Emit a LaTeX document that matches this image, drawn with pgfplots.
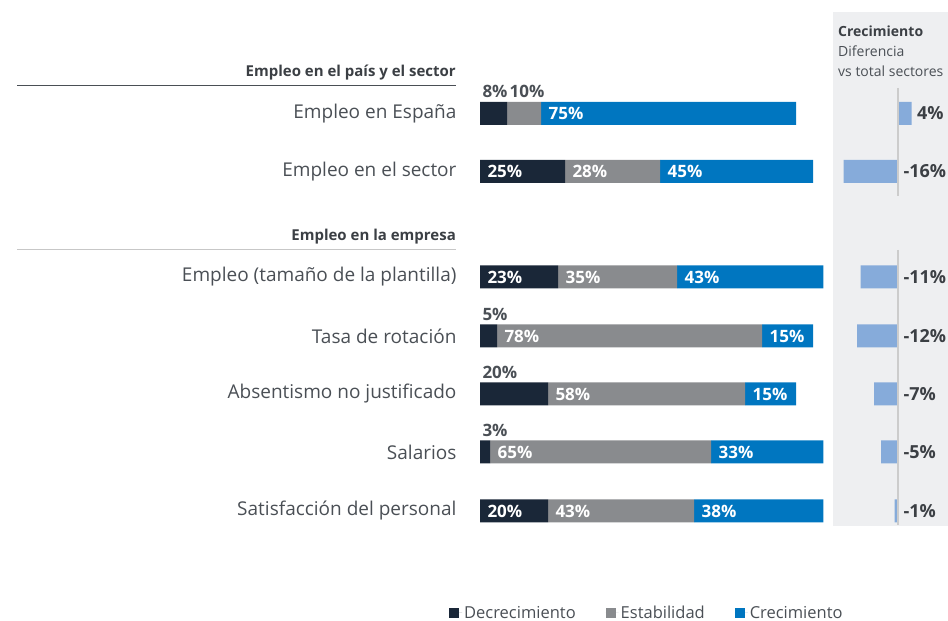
\documentclass[border=0pt]{standalone}
\usepackage{fontspec}
\setmainfont{Open Sans}
\usepackage{pgfplots}
\usepackage{pgfplotstable}
\pgfplotsset{compat=1.18}

\definecolor{decr}{HTML}{1A2738}
\definecolor{estab}{HTML}{898B8E}
\definecolor{crec}{HTML}{0076C0}
\definecolor{diffbar}{HTML}{86ABDA}
\definecolor{panelbg}{HTML}{EEEFF1}
\definecolor{txt}{HTML}{4A4F55}
\definecolor{txtdark}{HTML}{3B3F44}

% y = row position (pt from the bottom of the picture)
\pgfplotstableread{
y     dec est cre diff
507.5 8   10  75  4
449.5 25  28  45  -16
344   23  35  43  -11
285   5   78  15  -12
227   20  58  15  -7
169   3   65  33  -5
110   20  43  38  -1
}\mainbars

% labels inside the bars (x = start of the segment)
\pgfplotstableread{
x  y     lab
18 507.5 75
0  449.5 25
25 449.5 28
53 449.5 45
0  344   23
23 344   35
58 344   43
5  285   78
83 285   15
20 227   58
78 227   15
3  169   65
68 169   33
0  110   20
20 110   43
63 110   38
}\insidelabels

% labels above the bars
\pgfplotstableread{
x  y     lab
0  507.5 8
8  507.5 10
0  285   5
0  227   20
0  169   3
}\toplabels

% labels of the right panel
\pgfplotstableread{
x y     lab
4 507.5 4
0 449.5 -16
0 344   -11
0 285   -12
0 227   -7
0 169   -5
0 110   -1
}\difflabels

\pgfplotsset{
  sq/.style={legend image code/.code={\fill[##1] (0pt,-5pt) rectangle (10pt,5pt);
      \path (0pt,0pt) -- (13pt,0pt);}},
}

\begin{document}
\begin{tikzpicture}
\useasboundingbox (0,0) rectangle (948pt,621pt);

% section headers
\node[anchor=base east, font=\bfseries\fontsize{15}{18}\selectfont, text=txtdark, inner xsep=0pt]
  at (456pt,544pt) {Empleo en el país y el sector};
\draw[txt, line width=1pt] (17pt,535pt) -- (456pt,535pt);
\node[anchor=base east, font=\bfseries\fontsize{15}{18}\selectfont, text=txtdark, inner xsep=0pt]
  at (456pt,380pt) {Empleo en la empresa};
\draw[black!22, line width=1pt] (17pt,371pt) -- (456pt,371pt);

% right panel background and header
\fill[panelbg] (833pt,95pt) rectangle (948pt,609pt);
\node[anchor=base west, font=\bfseries\fontsize{14}{16}\selectfont, text=txtdark, inner xsep=0pt]
  at (838pt,584pt) {Crecimiento};
\node[anchor=base west, font=\fontsize{14}{16}\selectfont, text=txt, inner xsep=0pt]
  at (838pt,564pt) {Diferencia};
\node[anchor=base west, font=\fontsize{14}{16}\selectfont, text=txt, inner xsep=0pt]
  at (838pt,544pt) {vs total sectores};

\begin{axis}[
  at={(480pt,0pt)}, anchor=south west,
  scale only axis, width=340pt, height=621pt,
  xbar stacked, bar width=23pt,
  xmin=0, xmax=100, ymin=0, ymax=621,
  clip=false,
  axis line style={draw=none},
  major tick length=0pt,
  xtick=\empty,
  ytick={507.5,449.5,344,285,227,169,110},
  yticklabels={Empleo en España, Empleo en el sector, Empleo (tamaño de la plantilla),
    Tasa de rotación, Absentismo no justificado, Salarios, Satisfacción del personal},
  yticklabel style={font=\fontsize{19}{22}\selectfont, text=txt, xshift=-20pt},
  legend columns=3,
  legend style={at={(axis description cs:-0.1,0.013)}, anchor=west,
    draw=none, fill=none, font=\fontsize{16.5}{19}\selectfont, text=txt,
    /tikz/every even column/.append style={column sep=28pt}},
  ]
  \addplot[fill=decr, draw=none, sq] table[x=dec, y=y] {\mainbars};
  \addplot[fill=estab, draw=none, sq] table[x=est, y=y] {\mainbars};
  \addplot[fill=crec, draw=none, sq] table[x=cre, y=y] {\mainbars};
  \legend{Decrecimiento, Estabilidad, Crecimiento}
\end{axis}

% value labels
\begin{axis}[
  at={(480pt,0pt)}, anchor=south west,
  scale only axis, width=340pt, height=621pt,
  xmin=0, xmax=100, ymin=0, ymax=621,
  clip=false,
  hide axis,
  ]
  \addplot[draw=none, nodes near coords={\pgfplotspointmeta\%}, point meta=explicit symbolic,
    nodes near coords align={anchor=west},
    every node near coord/.append style={text=white, xshift=4pt,
      font=\bfseries\fontsize{17}{20}\selectfont}]
    table[x=x, y=y, meta=lab] {\insidelabels};
  \addplot[draw=none, nodes near coords={\pgfplotspointmeta\%}, point meta=explicit symbolic,
    nodes near coords align={anchor=base west},
    every node near coord/.append style={text=txt, xshift=-1pt, yshift=15.5pt,
      font=\bfseries\fontsize{17}{20}\selectfont}]
    table[x=x, y=y, meta=lab] {\toplabels};
\end{axis}

% right panel
\begin{axis}[
  at={(833pt,95pt)}, anchor=south west,
  scale only axis, width=115pt, height=514pt,
  xmin=-19.12, xmax=14.71, ymin=95, ymax=609,
  clip=false,
  hide axis,
  ]
  \addplot[xbar, bar width=23pt, fill=diffbar, draw=none] table[x=diff, y=y] {\mainbars};
  \draw[black!20, line width=1.5pt] (axis cs:0,533) -- (axis cs:0,425);
  \draw[black!20, line width=1.5pt] (axis cs:0,371) -- (axis cs:0,96);
  \addplot[draw=none, nodes near coords={\pgfplotspointmeta\%}, point meta=explicit symbolic,
    nodes near coords align={anchor=west},
    every node near coord/.append style={text=txtdark, xshift=2pt,
      font=\bfseries\fontsize{18}{21}\selectfont}]
    table[x=x, y=y, meta=lab] {\difflabels};
\end{axis}
\end{tikzpicture}
\end{document}
